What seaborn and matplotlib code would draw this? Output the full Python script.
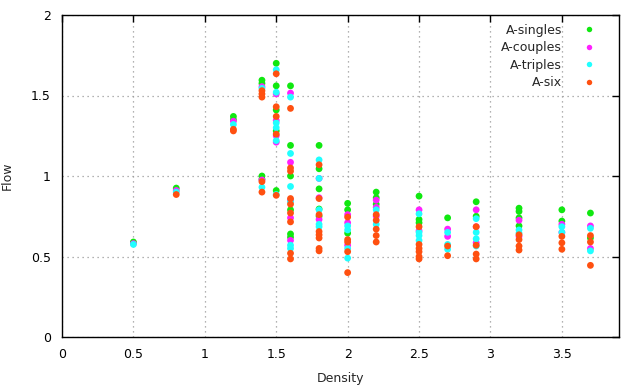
import matplotlib
matplotlib.use("Agg")
import matplotlib.pyplot as plt
import seaborn as sns
import pandas as pd

# ---- data ----
singles_density = [0.5, 0.8, 1.2, 1.2, 1.4, 1.4, 1.4, 1.4,
                   1.5, 1.5, 1.5, 1.5, 1.5,
                   1.6, 1.6, 1.6, 1.6, 1.6, 1.6,
                   1.8, 1.8, 1.8, 1.8, 1.8,
                   2.0, 2.0, 2.0, 2.2, 2.2, 2.2,
                   2.5, 2.5, 2.5, 2.7, 2.9, 2.9,
                   3.2, 3.2, 3.2, 3.2, 3.5, 3.5, 3.7, 3.7]
singles_flow = [0.59, 0.925, 1.37, 1.35, 1.595, 1.575, 1.0, 0.98,
                1.70, 1.56, 1.41, 1.28, 0.91,
                1.56, 1.19, 1.0, 0.79, 0.64, 0.62,
                1.19, 1.045, 0.92, 0.795, 0.75,
                0.83, 0.79, 0.645, 0.90, 0.865, 0.825,
                0.875, 0.73, 0.71, 0.74, 0.84, 0.75,
                0.80, 0.78, 0.74, 0.69, 0.79, 0.72, 0.77, 0.615]

couples_density = [0.5, 0.8, 1.2, 1.4, 1.4,
                   1.5, 1.5, 1.5, 1.5,
                   1.6, 1.6, 1.6, 1.6, 1.6,
                   1.8, 1.8, 1.8, 2.0, 2.0, 2.0,
                   2.2, 2.2, 2.2, 2.5, 2.5, 2.7, 2.7,
                   2.9, 2.9, 2.9, 3.2, 3.2, 3.5, 3.5, 3.7, 3.7]
couples_flow = [0.58, 0.91, 1.34, 1.555, 0.975,
                1.51, 1.345, 1.25, 1.21,
                1.515, 1.085, 0.85, 0.74, 0.60,
                0.985, 0.865, 0.73, 0.76, 0.71, 0.57,
                0.85, 0.805, 0.75, 0.79, 0.66, 0.67, 0.625,
                0.79, 0.685, 0.585, 0.725, 0.625, 0.70, 0.65, 0.69, 0.55]

triples_density = [0.5, 0.8, 1.2, 1.4, 1.4,
                   1.5, 1.5, 1.5, 1.5, 1.5, 1.5,
                   1.6, 1.6, 1.6, 1.6, 1.6, 1.6,
                   1.8, 1.8, 1.8, 1.8, 1.8,
                   2.0, 2.0, 2.0, 2.0, 2.2, 2.2,
                   2.5, 2.5, 2.5, 2.5, 2.7, 2.7, 2.7,
                   2.9, 2.9, 2.9, 2.9, 3.2, 3.2, 3.5, 3.5, 3.7, 3.7]
triples_flow = [0.575, 0.90, 1.32, 1.545, 0.93,
                1.66, 1.52, 1.33, 1.30, 1.22, 0.885,
                1.49, 1.14, 0.935, 0.84, 0.57, 0.55,
                1.10, 0.985, 0.79, 0.70, 0.685,
                0.69, 0.665, 0.55, 0.49, 0.79, 0.70,
                0.765, 0.65, 0.63, 0.60, 0.65, 0.575, 0.545,
                0.735, 0.65, 0.61, 0.565, 0.665, 0.645, 0.685, 0.65, 0.675, 0.535]

six_density = [0.8, 1.2, 1.2, 1.4, 1.4, 1.4, 1.4, 1.4,
               1.5, 1.5, 1.5, 1.5, 1.5,
               1.6, 1.6, 1.6, 1.6, 1.6, 1.6, 1.6, 1.6, 1.6,
               1.8, 1.8, 1.8, 1.8, 1.8, 1.8, 1.8, 1.8,
               2.0, 2.0, 2.0, 2.0, 2.0,
               2.2, 2.2, 2.2, 2.2, 2.2,
               2.5, 2.5, 2.5, 2.5, 2.5, 2.5,
               2.7, 2.7, 2.9, 2.9, 2.9, 2.9,
               3.2, 3.2, 3.2, 3.2, 3.5, 3.5, 3.5, 3.7, 3.7, 3.7]
six_flow = [0.885, 1.29, 1.28, 1.53, 1.51, 1.49, 0.965, 0.90,
            1.635, 1.43, 1.37, 1.26, 0.88,
            1.42, 1.05, 1.03, 0.86, 0.825, 0.77, 0.715, 0.52, 0.485,
            1.07, 0.86, 0.76, 0.655, 0.635, 0.615, 0.55, 0.535,
            0.745, 0.605, 0.59, 0.53, 0.40,
            0.76, 0.725, 0.67, 0.63, 0.59,
            0.685, 0.575, 0.55, 0.53, 0.50, 0.485,
            0.565, 0.505, 0.685, 0.57, 0.515, 0.485,
            0.635, 0.605, 0.565, 0.54, 0.625, 0.585, 0.545, 0.63, 0.59, 0.445]

series_names = ["A-singles", "A-couples", "A-triples", "A-six"]
series_colors = ["#10e810", "#ff20ff", "#20ffff", "#ff5010"]
x_ticks = [0, 0.5, 1, 1.5, 2, 2.5, 3, 3.5]
x_tick_labels = ["0", "0.5", "1", "1.5", "2", "2.5", "3", "3.5"]
y_ticks = [0, 0.5, 1, 1.5, 2]
y_tick_labels = ["0", "0.5", "1", "1.5", "2"]

frames = []
for name, xs, ys in zip(series_names,
                        [singles_density, couples_density, triples_density, six_density],
                        [singles_flow, couples_flow, triples_flow, six_flow]):
    frames.append(pd.DataFrame({"Density": xs, "Flow": ys, "series": name}))
df = pd.concat(frames, ignore_index=True)

sns.set_style("white")
plt.rcParams["font.family"] = ["DejaVu Sans"]

fig = plt.figure(figsize=(6.4, 3.87), dpi=100)
ax = fig.add_axes([62/640, 1-337/387, (619-62)/640, (337-15)/387])

sns.scatterplot(data=df, x="Density", y="Flow", hue="series",
                hue_order=series_names, palette=series_colors,
                s=24, linewidth=0, edgecolor="none", ax=ax, legend=True)

ax.set_xlim(0, 3.9)
ax.set_ylim(0, 2)
ax.set_xticks(x_ticks)
ax.set_xticklabels(x_tick_labels)
ax.set_yticks(y_ticks)
ax.set_yticklabels(y_tick_labels)
ax.tick_params(direction="in", length=5, width=1, top=True, right=True,
               labelsize=9, pad=8, colors="black")
ax.grid(True, color="#999999", linestyle=(0, (1, 3)), linewidth=0.9)
for sp in ax.spines.values():
    sp.set_color("black")
    sp.set_linewidth(1)
ax.set_xlabel("Density", fontsize=9, labelpad=8)
ax.set_ylabel("Flow", fontsize=9)
ax.yaxis.set_label_coords(-(62 - 14) / 557, 0.5)

handles, labels = ax.get_legend_handles_labels()
leg = ax.legend(handles, labels, loc="upper right", frameon=False,
                markerfirst=False, fontsize=9, handletextpad=1.2,
                labelspacing=0.35, borderaxespad=0.3, markerscale=0.8,
                bbox_to_anchor=(0.985, 1.0))
try:
    leg._legend_box.get_children()[1].get_children()[0].align = "right"
except Exception:
    pass

fig.savefig("out.png", dpi=100)
